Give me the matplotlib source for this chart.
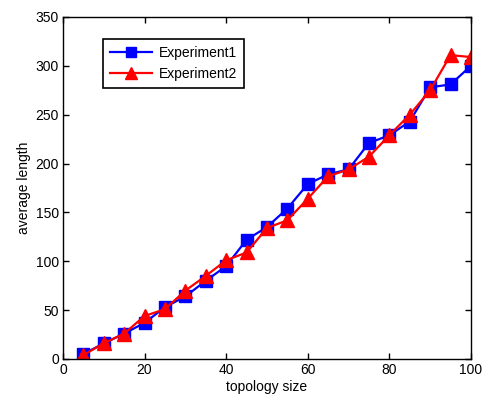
import numpy as np
import matplotlib.pyplot as plt

plt.rcParams['font.family'] = ['Liberation Sans', 'DejaVu Sans']

topology_size = [5, 10, 15, 20, 25, 30, 35, 40, 45, 50,
                 55, 60, 65, 70, 75, 80, 85, 90, 95, 100]
exp1 = [5, 16, 26, 37, 53, 64, 80, 95, 122, 135,
        154, 179, 189, 194, 221, 229, 243, 278, 281, 300]
exp2 = [4, 16, 26, 44, 51, 70, 85, 101, 109, 134,
        142, 164, 187, 194, 207, 229, 250, 275, 311, 309]

fig = plt.figure(figsize=(4.84, 4.00), dpi=100)
ax = fig.add_axes([0.130, 0.1025, 0.843, 0.855])

ax.plot(topology_size, exp1, color='#0000ff', linewidth=1.6, marker='s',
        markersize=8, label='Experiment1')
ax.plot(topology_size, exp2, color='#ff0000', linewidth=1.6, marker='^',
        markersize=9.5, label='Experiment2')

ax.set_xlim(0, 100)
ax.set_ylim(0, 350)
ax.set_xticks(np.arange(0, 101, 20))
ax.set_yticks(np.arange(0, 351, 50))
ax.tick_params(direction='in', top=True, right=True, labelsize=10, length=4, width=1,
               pad=3)
for s in ax.spines.values():
    s.set_linewidth(1)

ax.set_xlabel('topology size', fontsize=10, labelpad=2)
ax.set_ylabel('average length', fontsize=10, labelpad=3)

leg = ax.legend(loc='upper left', bbox_to_anchor=(0.098, 0.935), fontsize=10,
                fancybox=False, edgecolor='black', framealpha=1,
                handlelength=3.0, handletextpad=0.5, borderpad=0.5,
                labelspacing=0.5, borderaxespad=0, markerscale=0.85)
leg.get_frame().set_linewidth(1.2)

fig.savefig('out.png', dpi=100)
